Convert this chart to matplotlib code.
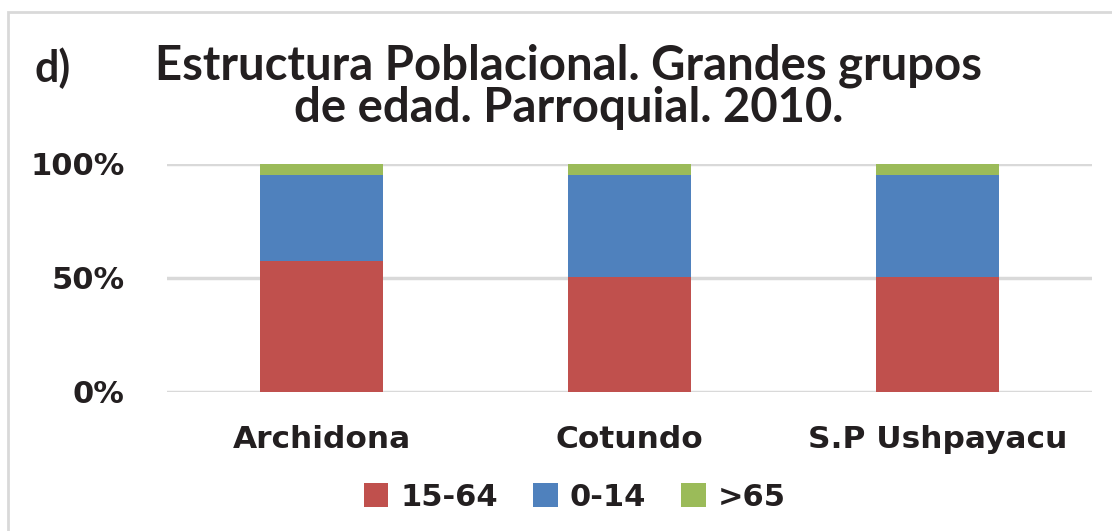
import matplotlib.pyplot as plt
import numpy as np
from matplotlib.patches import Rectangle

# Datos: porcentaje por grupo de edad y parroquia
parroquias = ['Archidona', 'Cotundo', 'S.P Ushpayacu']
grupos = ['15-64', '0-14', '>65']
g15_64 = [57.2, 50.4, 50.4]
g0_14 = [38.1, 44.9, 44.9]
g65 = [4.7, 4.7, 4.7]
colores = ['#C0504D', '#4F81BD', '#9BBB59']

fig = plt.figure(figsize=(11.12, 5.31), dpi=100)
ax = fig.add_axes([0.1506, 0.2623, 0.8310, 0.4289])

x = np.arange(len(parroquias))
base = np.zeros(len(parroquias))
for serie, nombre, color in zip([g15_64, g0_14, g65], grupos, colores):
    serie = np.array(serie)
    ax.bar(x, serie, width=0.4, bottom=base, color=color, label=nombre, zorder=3)
    base = base + serie

ax.set_xlim(-0.5, 2.5)
ax.set_ylim(0, 100)
ax.set_yticks([0, 50, 100])
ax.set_yticklabels(['0%', '50%', '100%'])
ax.set_xticks(x)
ax.set_xticklabels(parroquias)
ax.grid(axis='y', color='#D9D9D9', linewidth=2.5, zorder=0)
for s in ax.spines.values():
    s.set_visible(False)
ax.tick_params(length=0)
ax.tick_params(axis='y', pad=31)
ax.tick_params(axis='x', pad=24)
for lab in ax.get_yticklabels() + ax.get_xticklabels():
    lab.set_fontfamily('DejaVu Sans')
    lab.set_fontweight('bold')
    lab.set_fontsize(22)
    lab.set_color('#231F20')
for lab in ax.get_xticklabels():
    lab.set_fontsize(22.5)

# Título
fig.text(0.511, 0.876, 'Estructura Poblacional. Grandes grupos', ha='center', va='center',
         fontsize=34, fontweight='bold', family='Lato', color='#231F20')
fig.text(0.511, 0.796, 'de edad. Parroquial. 2010.', ha='center', va='center',
         fontsize=34, fontweight='bold', family='Lato', color='#231F20')
fig.text(0.031, 0.872, 'd)', ha='left', va='center',
         fontsize=31, fontweight='bold', family='Lato', color='#231F20')

# Leyenda
leg = fig.legend(loc='center', bbox_to_anchor=(0.517, 0.064), ncol=3, frameon=False,
                 prop={'family': 'DejaVu Sans', 'weight': 'bold', 'size': 22},
                 handlelength=0.8, handleheight=0.8, handletextpad=0.4, columnspacing=1.15)
for t in leg.get_texts():
    t.set_color('#231F20')

# Marco del gráfico
fig.patches.append(Rectangle((8 / 1112, -0.1), 1.2, (531 - 12) / 531 + 0.1,
                             transform=fig.transFigure, fill=False,
                             edgecolor='#D9D9D9', linewidth=2))

fig.savefig('out.png', dpi=100)
